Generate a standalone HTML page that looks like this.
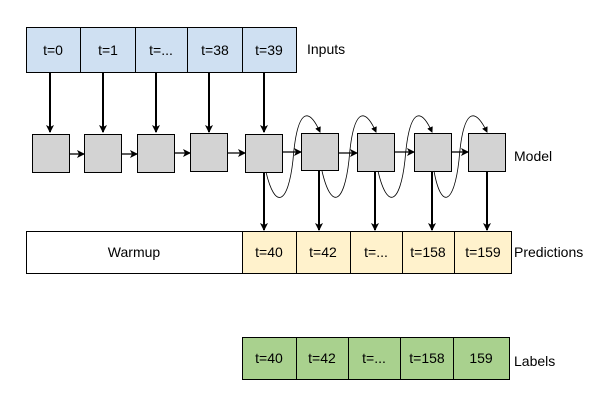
<!DOCTYPE html>
<html><head><style>
body{margin:0;background:#fff;}
svg text{font-family:"Liberation Sans",Arial,sans-serif;font-size:14px;}
</style></head><body>
<svg width="610" height="405" viewBox="0 0 610 405" xmlns="http://www.w3.org/2000/svg">
<defs>
<marker id="a" markerWidth="8" markerHeight="8" refX="7" refY="4" orient="auto" markerUnits="userSpaceOnUse"><path d="M0,0 L8,4 L0,8 L2,4 Z" fill="#000"/></marker>
<marker id="s" markerWidth="6" markerHeight="6" refX="5" refY="3" orient="auto" markerUnits="userSpaceOnUse"><path d="M0,0 L6,3 L0,6 Z" fill="#000"/></marker>
</defs>
<g stroke="#000" stroke-width="1" fill="#cfe0f2">
<rect x="26.5" y="27.5" width="54" height="45"/><rect x="80.5" y="27.5" width="55" height="45"/><rect x="135.5" y="27.5" width="52" height="45"/><rect x="187.5" y="27.5" width="55" height="45"/><rect x="242.5" y="27.5" width="54" height="45"/>
</g>
<g text-anchor="middle"><text x="53" y="55">t=0</text><text x="108" y="55">t=1</text><text x="161" y="55">t=...</text><text x="215" y="55">t=38</text><text x="269" y="55">t=39</text></g>
<text x="307" y="54">Inputs</text>
<g stroke="#000" stroke-width="2" marker-end="url(#a)">
<line x1="50" y1="73" x2="50" y2="132"/><line x1="103" y1="73" x2="103" y2="132"/><line x1="156" y1="73" x2="156" y2="132"/><line x1="209" y1="73" x2="209" y2="132"/><line x1="264" y1="73" x2="264" y2="132"/>
</g>
<g stroke="#000" stroke-width="1" fill="#d3d3d3">
<rect x="32.5" y="134.5" width="37" height="38"/><rect x="84.5" y="134.5" width="37" height="38"/><rect x="137.5" y="134.5" width="37" height="38"/><rect x="190.5" y="133.5" width="37" height="38"/><rect x="245.5" y="134.5" width="37" height="38"/>
<rect x="301.5" y="133.5" width="37" height="37"/><rect x="357.5" y="133.5" width="37" height="38"/><rect x="414.5" y="133.5" width="37" height="38"/><rect x="468.5" y="133.5" width="37" height="38"/>
</g>
<g stroke="#000" stroke-width="1.3" marker-end="url(#a)">
<line x1="70" y1="154" x2="84" y2="154"/><line x1="122" y1="154" x2="137" y2="154"/><line x1="175" y1="153" x2="190" y2="153"/><line x1="228" y1="153" x2="245" y2="153"/><line x1="283" y1="152" x2="301" y2="152"/><line x1="339" y1="153" x2="357" y2="153"/><line x1="395" y1="152" x2="414" y2="152"/><line x1="452" y1="152" x2="468" y2="152"/>
</g>
<text x="514" y="161">Model</text>
<g stroke="#000" stroke-width="0.8" fill="none" marker-end="url(#s)">
<path d="M266,172 C275,210 288,205 293,160 C297,110 308,105 320,132"/>
<path d="M322,171 C331,210 344,205 349,160 C353,110 364,105 376,132"/>
<path d="M378,171 C387,210 400,205 405,160 C409,110 420,105 432,132"/>
<path d="M434,171 C441,210 454,205 459,160 C463,110 474,105 487,132"/>
</g>
<g stroke="#000" stroke-width="2" marker-end="url(#a)">
<line x1="264" y1="173" x2="264" y2="230"/><line x1="319" y1="171" x2="319" y2="230"/><line x1="375" y1="172" x2="375" y2="230"/><line x1="432" y1="172" x2="432" y2="230"/><line x1="487" y1="172" x2="487" y2="230"/>
</g>
<rect x="26.5" y="231.5" width="216" height="42" fill="#fff" stroke="#000"/>
<g stroke="#000" fill="#fff2cc">
<rect x="242.5" y="231.5" width="54" height="42"/><rect x="296.5" y="231.5" width="54" height="42"/><rect x="350.5" y="231.5" width="52" height="42"/><rect x="402.5" y="231.5" width="52" height="42"/><rect x="454.5" y="231.5" width="57" height="42"/>
</g>
<g text-anchor="middle"><text x="134" y="257">Warmup</text><text x="269" y="257">t=40</text><text x="323" y="257">t=42</text><text x="376" y="257">t=...</text><text x="428" y="257">t=158</text><text x="483" y="257">t=159</text></g>
<text x="514" y="257">Predictions</text>
<g stroke="#000" fill="#a9d18e">
<rect x="242.5" y="337.5" width="54" height="42"/><rect x="296.5" y="337.5" width="52" height="42"/><rect x="348.5" y="337.5" width="52" height="42"/><rect x="400.5" y="337.5" width="53" height="42"/><rect x="453.5" y="337.5" width="56" height="42"/>
</g>
<g text-anchor="middle"><text x="269" y="363">t=40</text><text x="322" y="363">t=42</text><text x="374" y="363">t=...</text><text x="427" y="363">t=158</text><text x="481" y="363">159</text></g>
<text x="514" y="366">Labels</text>
</svg>
</body></html>
